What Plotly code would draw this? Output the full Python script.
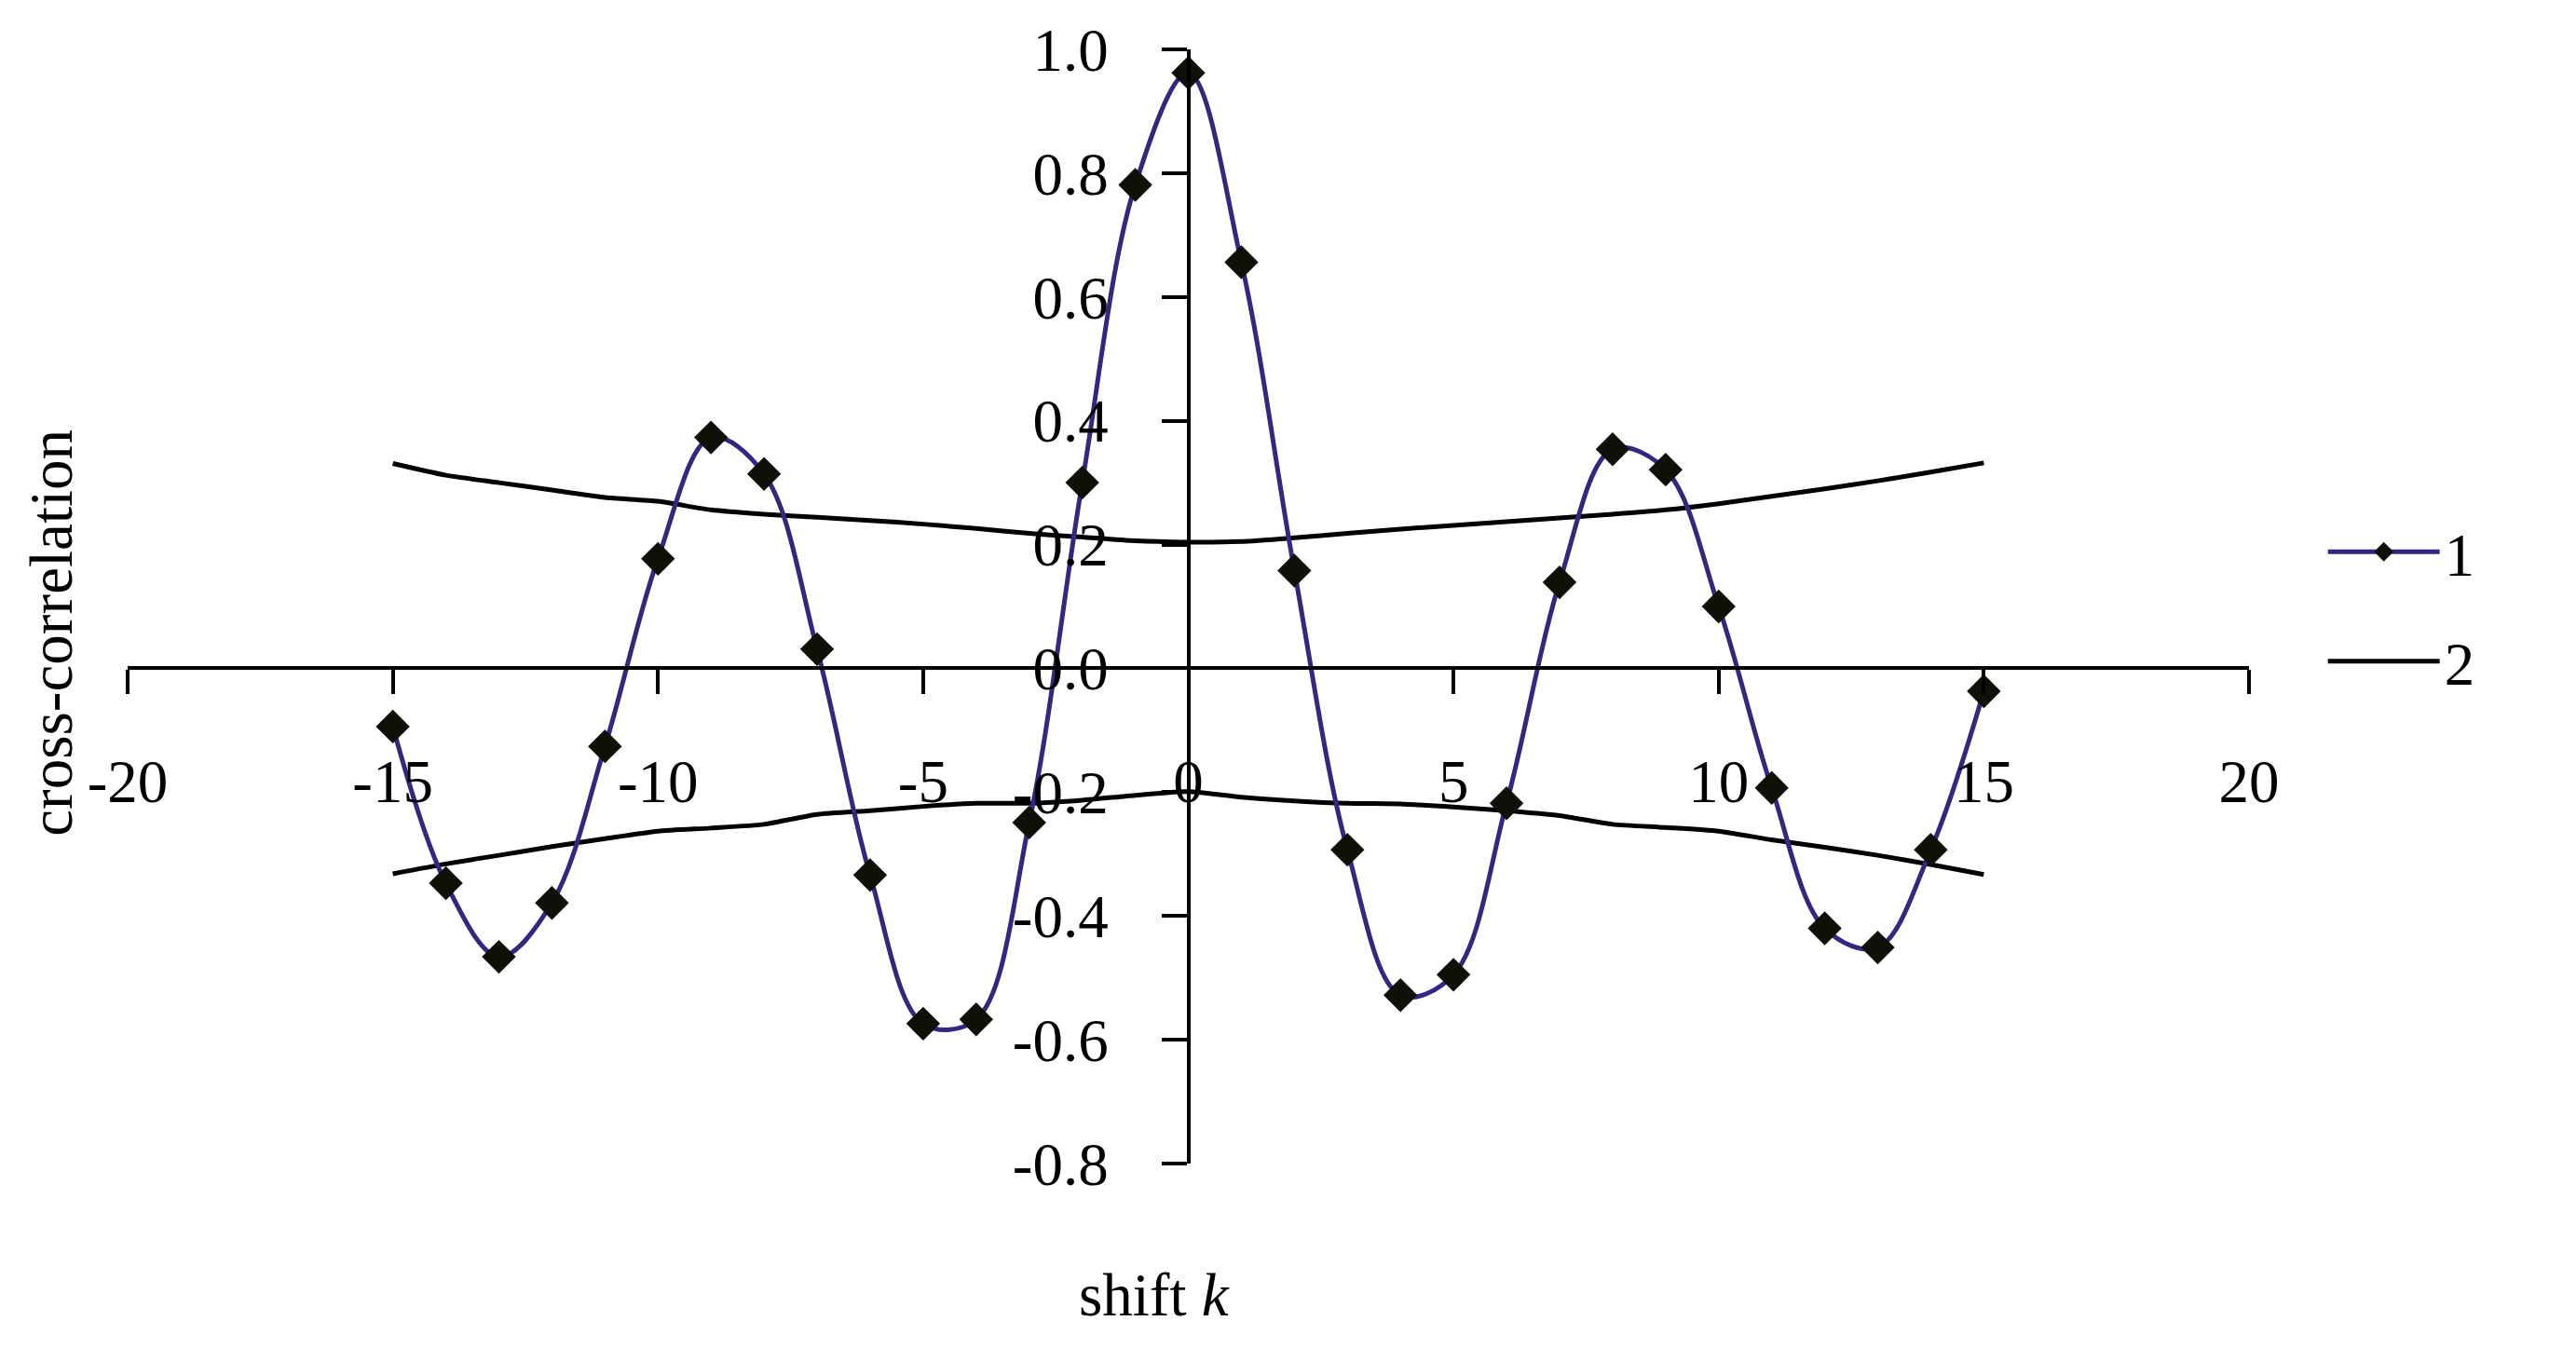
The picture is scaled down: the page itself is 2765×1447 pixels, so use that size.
import plotly.graph_objects as go

# ---- data ----
shift_k = list(range(-15, 16))
series1 = [-0.094, -0.347, -0.466, -0.379, -0.126, 0.177, 0.373, 0.314, 0.031,
           -0.334, -0.574, -0.567, -0.249, 0.300, 0.781, 0.962, 0.656, 0.158,
           -0.293, -0.528, -0.495, -0.218, 0.139, 0.354, 0.321, 0.100, -0.193,
           -0.420, -0.451, -0.293, -0.037]
upper2 = [0.331, 0.312, 0.300, 0.288, 0.276, 0.270, 0.256, 0.249, 0.244, 0.239,
          0.233, 0.226, 0.218, 0.212, 0.206, 0.204, 0.205, 0.211, 0.218, 0.225,
          0.231, 0.237, 0.243, 0.249, 0.256, 0.266, 0.278, 0.290, 0.303, 0.317, 0.332]
lower2 = [-0.332, -0.316, -0.302, -0.288, -0.275, -0.263, -0.258, -0.252, -0.236,
          -0.230, -0.223, -0.218, -0.218, -0.213, -0.205, -0.199, -0.208, -0.214,
          -0.218, -0.219, -0.224, -0.230, -0.238, -0.252, -0.257, -0.263, -0.277,
          -0.289, -0.302, -0.317, -0.333]
x_ticks = [-20, -15, -10, -5, 0, 5, 10, 15, 20]
y_ticks = [-0.8, -0.6, -0.4, -0.2, 0.0, 0.2, 0.4, 0.6, 0.8, 1.0]
legend_names = ["1", "2"]

FONT = "Liberation Serif, Times New Roman, serif"
FS = 65

fig = go.Figure()

# series 2 (band): upper and lower in one trace separated by a gap
x2 = shift_k + [None] + shift_k
y2 = upper2 + [None] + lower2
fig.add_trace(go.Scatter(
    x=x2, y=y2, mode="lines", name=legend_names[1],
    line=dict(color="black", width=5, shape="spline", smoothing=0.6),
    connectgaps=False, legendgroup="g2", legendrank=2,
))

fig.add_trace(go.Scatter(
    x=shift_k, y=series1, mode="lines+markers", name=legend_names[0],
    line=dict(color="#33287E", width=5, shape="spline", smoothing=1.0),
    marker=dict(symbol="diamond", size=28, color="#111008"),
    legendgroup="g1", legendrank=1,
))

fig.update_layout(
    width=2765, height=1447,
    margin=dict(l=129, r=359, t=45, b=206),
    paper_bgcolor="white", plot_bgcolor="white",
    font=dict(family=FONT, size=FS, color="black"),
    showlegend=True,
    legend=dict(
        x=1.035, y=0.50, xanchor="left", yanchor="middle",
        font=dict(family=FONT, size=FS, color="black"),
        traceorder="grouped", tracegroupgap=30,
        bgcolor="rgba(0,0,0,0)", itemwidth=120,
    ),
    xaxis=dict(
        range=[-20, 20], tickmode="array", tickvals=x_ticks,
        ticktext=[str(v) for v in x_ticks],
        showgrid=False, zeroline=False,
        showline=True, linecolor="black", linewidth=3.5,
        ticks="outside", ticklen=26, tickwidth=3.5, tickcolor="black",
        anchor="free", position=0.8 / 1.8, side="bottom",
        ticklabelstandoff=38, automargin=False,
        tickfont=dict(family=FONT, size=FS, color="black"),
    ),
    yaxis=dict(
        range=[-0.8, 1.0], tickmode="array", tickvals=y_ticks,
        ticktext=[f"{v:.1f}" for v in y_ticks],
        showgrid=False, zeroline=False,
        showline=True, linecolor="black", linewidth=3.5,
        ticks="outside", ticklen=27, tickwidth=3.5, tickcolor="black",
        anchor="free", position=0.5, side="left",
        ticklabelstandoff=44, automargin=False,
        tickfont=dict(family=FONT, size=FS, color="black"),
    ),
    annotations=[
        dict(text="cross-correlation", xref="paper", yref="paper",
             x=-0.036, y=0.476, textangle=-90, showarrow=False,
             xanchor="center", yanchor="middle",
             font=dict(family=FONT, size=FS, color="black")),
        dict(text="shift <i>k</i>", xref="paper", yref="paper",
             x=0.484, y=-0.118, showarrow=False,
             xanchor="center", yanchor="middle",
             font=dict(family=FONT, size=FS, color="black")),
    ],
)

fig.write_html("out.html")
